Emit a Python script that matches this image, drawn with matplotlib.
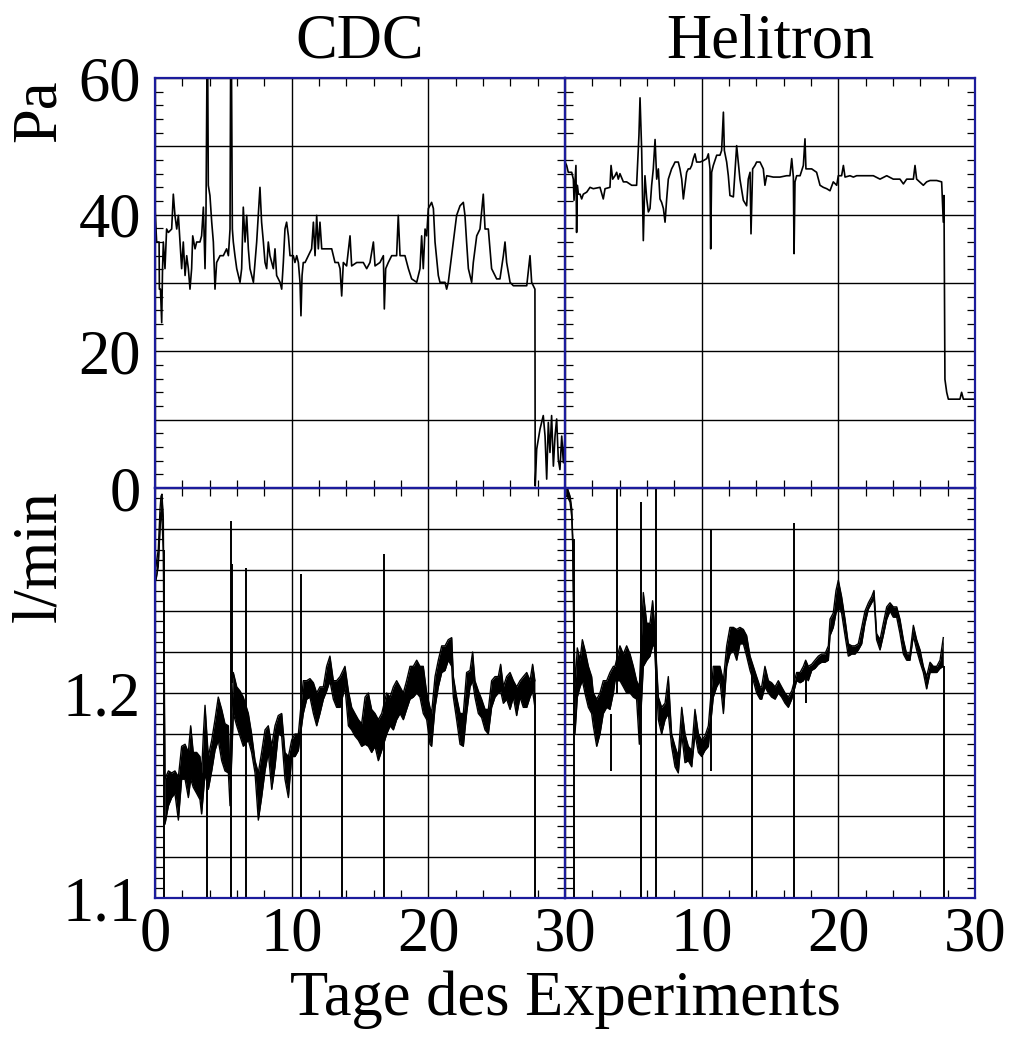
import numpy as np
import matplotlib
matplotlib.use("Agg")
import matplotlib.pyplot as plt
from matplotlib.ticker import MultipleLocator, FixedLocator, FixedFormatter

plt.rcParams['font.family'] = ['Liberation Serif', 'DejaVu Serif']

# ---------------- data ----------------
# differential pressure, CDC (day, Pa)
cdc_pa = [
    (0, 40.9), (0.12, 36.0), (0.3, 36.0), (0.32, 29.1), (0.4, 29.1), (0.49, 24.2), (0.55, 32.0),
    (0.61, 36.0), (0.73, 32.1), (0.85, 37.9), (0.98, 37.4), (1.22, 37.9), (1.34, 43.0), (1.46, 39.9),
    (1.59, 37.9), (1.71, 39.9), (1.83, 36.0), (1.95, 32.1), (2.07, 36.0), (2.2, 31.1), (2.32, 34.0),
    (2.44, 32.1), (2.56, 29.1), (2.68, 32.1), (2.76, 36.9), (2.93, 35.0), (3.05, 36.0), (3.29, 36.0),
    (3.41, 36.9), (3.54, 41.1), (3.66, 32.1), (3.73, 39.9), (3.8, 60.5), (3.86, 60.5), (3.9, 44.3),
    (4.02, 42.8), (4.15, 38.9), (4.27, 36.0), (4.39, 29.1), (4.51, 33.0), (4.76, 34.0), (5.0, 34.0),
    (5.24, 35.0), (5.37, 34.0), (5.49, 37.9), (5.53, 60.5), (5.6, 60.5), (5.66, 37.9), (5.73, 36.0),
    (5.85, 34.0), (5.98, 32.1), (6.22, 30.1), (6.34, 32.1), (6.46, 41.1), (6.59, 36.0), (6.71, 39.9),
    (6.83, 35.0), (6.95, 32.1), (7.2, 30.1), (7.44, 36.0), (7.56, 39.9), (7.68, 44.0), (7.8, 38.9),
    (7.93, 36.0), (8.05, 33.0), (8.17, 32.1), (8.29, 36.0), (8.41, 34.0), (8.66, 32.1), (8.78, 35.0),
    (8.9, 31.1), (9.15, 30.1), (9.27, 29.1), (9.39, 33.0), (9.51, 37.9), (9.63, 38.9), (9.76, 36.9),
    (9.88, 34.0), (10.12, 34.0), (10.24, 33.0), (10.37, 34.0), (10.49, 33.0), (10.61, 30.1),
    (10.68, 25.2), (10.76, 31.1), (10.85, 33.0), (10.98, 33.0), (11.22, 34.0), (11.46, 35.0),
    (11.59, 38.9), (11.71, 34.0), (11.83, 39.9), (11.95, 35.0), (12.07, 38.9), (12.2, 35.0),
    (12.56, 35.0), (12.93, 35.0), (13.17, 33.0), (13.41, 33.0), (13.54, 32.1), (13.66, 28.1),
    (13.78, 33.0), (14.02, 32.5), (14.27, 36.9), (14.39, 32.5), (14.76, 33.0), (15.24, 33.0),
    (15.49, 32.1), (15.73, 33.0), (15.98, 36.0), (16.1, 32.5), (16.46, 33.0), (16.71, 34.0),
    (16.78, 26.2), (16.88, 32.1), (17.07, 33.0), (17.32, 34.0), (17.68, 34.0), (17.8, 39.9),
    (17.93, 34.0), (18.29, 34.0), (18.54, 32.1), (18.78, 30.6), (19.15, 30.1), (19.39, 32.1),
    (19.51, 36.9), (19.63, 32.1), (19.76, 37.9), (19.88, 36.9), (20.0, 40.9), (20.24, 41.8),
    (20.37, 40.9), (20.49, 36.0), (20.73, 31.1), (20.85, 30.1), (21.22, 30.1), (21.34, 29.1),
    (21.46, 30.1), (21.83, 36.0), (22.07, 39.9), (22.32, 41.3), (22.56, 41.8), (22.68, 39.9),
    (22.8, 36.0), (22.93, 32.1), (23.17, 30.1), (23.29, 33.0), (23.54, 36.9), (23.78, 37.9),
    (24.02, 43.0), (24.15, 37.9), (24.39, 37.9), (24.51, 35.0), (24.63, 32.1), (25.0, 30.6),
    (25.24, 30.6), (25.49, 34.0), (25.61, 36.0), (25.73, 33.0), (25.98, 30.1), (26.22, 29.6),
    (26.71, 29.6), (27.2, 29.6), (27.44, 34.0), (27.56, 30.1), (27.8, 29.1), (27.82, 0.3),
    (27.93, 5.7), (28.17, 8.6), (28.41, 10.6), (28.54, 7.6), (28.66, 1.3), (28.78, 9.6),
    (28.9, 5.2), (29.02, 10.6), (29.15, 3.2), (29.27, 7.6), (29.39, 10.1), (29.51, 4.2),
    (29.63, 2.7), (29.76, 7.6), (29.88, 3.7), (30.0, 7.6),
]

# differential pressure, Helitron (day, Pa)
hel_pa = [
    (0, 47.7), (0.12, 47.2), (0.24, 46.2), (0.49, 46.2), (0.61, 45.2), (0.66, 42.1), (0.8, 47.2),
    (0.85, 37.4), (0.9, 44.3), (0.98, 43.0), (1.1, 43.0), (1.22, 42.3), (1.34, 43.0), (1.59, 43.3),
    (1.83, 44.0), (2.07, 43.8), (2.56, 44.0), (2.8, 42.3), (2.93, 43.8), (3.29, 44.0), (3.37, 47.2),
    (3.49, 45.2), (3.66, 45.7), (3.78, 46.2), (3.9, 45.2), (4.02, 46.0), (4.27, 44.8), (4.51, 44.8),
    (4.88, 44.3), (5.24, 44.3), (5.41, 51.6), (5.49, 57.1), (5.61, 49.4), (5.73, 36.2), (5.85, 45.7),
    (5.98, 42.3), (6.1, 40.4), (6.22, 40.9), (6.34, 44.3), (6.46, 46.7), (6.59, 51.0), (6.71, 45.2),
    (6.83, 46.7), (6.95, 42.3), (7.07, 41.8), (7.2, 40.9), (7.32, 38.9), (7.44, 42.3), (7.56, 45.2),
    (7.8, 46.7), (7.93, 47.2), (8.05, 47.7), (8.29, 47.7), (8.41, 46.7), (8.54, 45.2), (8.66, 42.3),
    (8.78, 44.3), (8.9, 46.2), (9.02, 46.7), (9.15, 46.7), (9.27, 47.2), (9.39, 48.2), (9.51, 48.9),
    (9.63, 47.7), (9.88, 47.7), (10.12, 47.9), (10.37, 48.2), (10.49, 48.9), (10.61, 46.7),
    (10.66, 35.0), (10.73, 46.2), (10.85, 47.2), (11.1, 48.7), (11.34, 48.7), (11.46, 49.4),
    (11.59, 55.0), (11.66, 49.4), (11.83, 47.7), (11.95, 45.7), (12.07, 42.8), (12.32, 42.6),
    (12.56, 50.1), (12.68, 47.7), (12.8, 45.2), (13.05, 42.1), (13.29, 41.3), (13.41, 45.2),
    (13.54, 46.2), (13.61, 37.2), (13.73, 46.7), (13.9, 47.2), (14.02, 47.7), (14.27, 47.7),
    (14.51, 46.7), (14.63, 44.3), (14.76, 45.7), (15.24, 45.5), (15.73, 45.5), (16.22, 45.7),
    (16.46, 45.7), (16.59, 48.2), (16.71, 45.5), (16.76, 34.3), (16.83, 44.8), (16.95, 45.7),
    (17.2, 45.7), (17.44, 47.2), (17.56, 51.1), (17.63, 46.7), (17.8, 46.7), (18.05, 46.7),
    (18.41, 46.2), (18.66, 44.3), (18.9, 44.0), (19.15, 43.8), (19.39, 43.5), (19.63, 44.8),
    (19.88, 44.3), (20.0, 45.7), (20.24, 45.7), (20.37, 47.2), (20.49, 45.5), (20.85, 45.7),
    (21.1, 45.5), (21.34, 45.7), (21.59, 45.7), (22.07, 45.7), (22.56, 45.7), (23.05, 45.2),
    (23.54, 45.7), (24.02, 45.2), (24.51, 45.2), (24.76, 44.5), (25.0, 45.2), (25.49, 45.2),
    (25.61, 47.2), (25.73, 45.2), (26.22, 44.3), (26.46, 44.8), (26.71, 45.0), (27.2, 45.0),
    (27.56, 44.8), (27.68, 38.9), (27.73, 42.8), (27.8, 15.9), (27.93, 14.0), (28.05, 13.0),
    (28.9, 13.0), (29.02, 14.0), (29.15, 13.0), (29.88, 13.0),
]

# gas flow, CDC: noise band (day, lower, upper) in l/min
cdc_flow = [
    (0.07, 1.255, 1.262), (0.24, 1.262, 1.270), (0.37, 1.280, 1.290), (0.44, 1.288, 1.296),
    (0.51, 1.285, 1.297), (0.61, 1.268, 1.285),
    (0.73, 1.136, 1.158), (0.98, 1.145, 1.162), (1.22, 1.149, 1.161), (1.46, 1.151, 1.162),
    (1.71, 1.138, 1.159), (1.95, 1.158, 1.174), (2.2, 1.158, 1.175), (2.44, 1.149, 1.171),
    (2.61, 1.158, 1.184), (2.8, 1.154, 1.171), (3.05, 1.151, 1.171), (3.29, 1.148, 1.169),
    (3.41, 1.141, 1.161), (3.54, 1.151, 1.180), (3.66, 1.161, 1.194), (3.9, 1.153, 1.169),
    (4.15, 1.162, 1.177), (4.39, 1.172, 1.187), (4.63, 1.177, 1.198), (4.88, 1.167, 1.192),
    (5.12, 1.162, 1.185), (5.37, 1.161, 1.184), (5.49, 1.145, 1.158), (5.73, 1.190, 1.210),
    (5.98, 1.184, 1.203), (6.22, 1.179, 1.201), (6.46, 1.174, 1.198), (6.83, 1.177, 1.190),
    (7.07, 1.171, 1.180), (7.32, 1.161, 1.167), (7.56, 1.138, 1.161), (7.8, 1.149, 1.171),
    (8.05, 1.162, 1.182), (8.29, 1.171, 1.184), (8.54, 1.153, 1.174), (8.78, 1.164, 1.184),
    (9.02, 1.180, 1.189), (9.27, 1.179, 1.190), (9.51, 1.158, 1.171), (9.76, 1.149, 1.169),
    (10.0, 1.169, 1.177), (10.24, 1.169, 1.180), (10.49, 1.172, 1.180), (10.85, 1.190, 1.206),
    (11.1, 1.197, 1.206), (11.34, 1.198, 1.207), (11.59, 1.190, 1.205), (11.83, 1.184, 1.200),
    (12.07, 1.190, 1.203), (12.32, 1.197, 1.203), (12.56, 1.201, 1.213), (12.8, 1.206, 1.218),
    (13.05, 1.197, 1.206), (13.29, 1.193, 1.206), (13.54, 1.193, 1.208), (13.9, 1.203, 1.213),
    (14.15, 1.184, 1.201), (14.39, 1.182, 1.193), (14.63, 1.179, 1.190), (14.88, 1.177, 1.187),
    (15.12, 1.174, 1.185), (15.37, 1.175, 1.198), (15.61, 1.174, 1.200), (15.85, 1.171, 1.192),
    (16.1, 1.174, 1.190), (16.34, 1.167, 1.187), (16.59, 1.172, 1.190), (16.95, 1.180, 1.200),
    (17.2, 1.184, 1.198), (17.44, 1.182, 1.203), (17.68, 1.187, 1.206), (17.93, 1.190, 1.203),
    (18.17, 1.187, 1.200), (18.41, 1.192, 1.206), (18.66, 1.197, 1.213), (18.9, 1.198, 1.213),
    (19.15, 1.200, 1.216), (19.39, 1.198, 1.213), (19.63, 1.190, 1.213), (19.88, 1.187, 1.200),
    (20.12, 1.175, 1.193), (20.24, 1.174, 1.190), (20.49, 1.193, 1.208), (20.73, 1.203, 1.216),
    (20.98, 1.210, 1.223), (21.22, 1.211, 1.223), (21.46, 1.216, 1.226), (21.71, 1.213, 1.227),
    (21.83, 1.198, 1.208), (22.07, 1.187, 1.198), (22.32, 1.175, 1.190), (22.56, 1.174, 1.190),
    (22.8, 1.190, 1.210), (23.05, 1.203, 1.211), (23.24, 1.206, 1.220), (23.41, 1.198, 1.206),
    (23.66, 1.190, 1.201), (23.9, 1.188, 1.197), (24.15, 1.182, 1.192), (24.39, 1.180, 1.192),
    (24.63, 1.193, 1.206), (24.88, 1.198, 1.208), (25.12, 1.200, 1.208), (25.29, 1.201, 1.214),
    (25.49, 1.195, 1.203), (25.73, 1.197, 1.208), (25.98, 1.192, 1.210), (26.22, 1.198, 1.206),
    (26.46, 1.189, 1.203), (26.71, 1.198, 1.206), (26.95, 1.193, 1.208), (27.2, 1.193, 1.210),
    (27.44, 1.198, 1.206), (27.63, 1.201, 1.214), (27.8, 1.193, 1.206),
]

# gas flow, CDC: isolated glitches (day, from, to)
cdc_flow_spikes = [
    (0.66, 1.09, 1.270), (3.83, 1.09, 1.160), (5.56, 1.09, 1.284), (5.66, 1.205, 1.263),
    (6.68, 1.09, 1.261), (10.68, 1.09, 1.258), (13.66, 1.09, 1.200), (16.78, 1.09, 1.268),
    (27.8, 1.09, 1.200),
]

# gas flow, Helitron: noise band (day, lower, upper) in l/min
hel_flow = [
    (0.05, 1.296, 1.302), (0.17, 1.296, 1.300), (0.37, 1.293, 1.296), (0.49, 1.286, 1.290),
    (0.56, 1.273, 1.277),
    (0.73, 1.180, 1.203), (0.9, 1.198, 1.222), (1.1, 1.203, 1.216), (1.27, 1.206, 1.226),
    (1.46, 1.200, 1.221), (1.71, 1.193, 1.213), (1.95, 1.190, 1.208), (2.07, 1.184, 1.200),
    (2.32, 1.174, 1.197), (2.56, 1.180, 1.200), (2.8, 1.190, 1.206), (3.05, 1.193, 1.206),
    (3.29, 1.192, 1.210), (3.54, 1.200, 1.213), (3.66, 1.206, 1.213), (4.02, 1.206, 1.223),
    (4.27, 1.203, 1.219), (4.51, 1.200, 1.223), (4.76, 1.200, 1.219), (5.0, 1.198, 1.213),
    (5.24, 1.197, 1.206), (5.44, 1.175, 1.203), (5.73, 1.213, 1.249), (5.98, 1.216, 1.234),
    (6.22, 1.218, 1.234), (6.41, 1.223, 1.245), (6.54, 1.223, 1.234), (6.83, 1.187, 1.198),
    (7.07, 1.180, 1.193), (7.32, 1.187, 1.195), (7.56, 1.190, 1.208), (7.8, 1.174, 1.180),
    (8.05, 1.164, 1.174), (8.29, 1.161, 1.169), (8.54, 1.180, 1.193), (8.78, 1.166, 1.180),
    (9.02, 1.167, 1.174), (9.27, 1.164, 1.172), (9.51, 1.180, 1.192), (9.76, 1.171, 1.180),
    (10.0, 1.169, 1.177), (10.24, 1.172, 1.179), (10.49, 1.174, 1.184), (10.85, 1.198, 1.213),
    (11.1, 1.203, 1.213), (11.34, 1.206, 1.213), (11.59, 1.190, 1.206), (11.83, 1.213, 1.223),
    (12.07, 1.219, 1.232), (12.32, 1.221, 1.232), (12.56, 1.216, 1.231), (12.8, 1.224, 1.232),
    (13.05, 1.224, 1.231), (13.29, 1.218, 1.228), (13.54, 1.211, 1.218), (13.78, 1.206, 1.213),
    (14.02, 1.200, 1.208), (14.27, 1.197, 1.203), (14.39, 1.197, 1.203), (14.63, 1.203, 1.213),
    (14.88, 1.200, 1.206), (15.12, 1.198, 1.205), (15.37, 1.197, 1.203), (15.61, 1.200, 1.206),
    (15.85, 1.198, 1.203), (16.1, 1.195, 1.200), (16.34, 1.193, 1.198), (16.59, 1.197, 1.201),
    (16.95, 1.206, 1.210), (17.2, 1.205, 1.210), (17.44, 1.206, 1.213), (17.61, 1.208, 1.216),
    (17.8, 1.206, 1.213), (18.05, 1.211, 1.214), (18.29, 1.212, 1.216), (18.54, 1.214, 1.218),
    (18.78, 1.215, 1.219), (19.02, 1.215, 1.219), (19.27, 1.216, 1.223), (19.39, 1.228, 1.236),
    (19.63, 1.232, 1.239), (19.83, 1.239, 1.250), (20.0, 1.242, 1.255), (20.24, 1.239, 1.247),
    (20.49, 1.228, 1.236), (20.73, 1.218, 1.224), (20.98, 1.219, 1.223), (21.22, 1.219, 1.223),
    (21.46, 1.221, 1.224), (21.71, 1.224, 1.232), (21.95, 1.234, 1.240), (22.2, 1.241, 1.244),
    (22.44, 1.244, 1.247), (22.61, 1.246, 1.250), (22.8, 1.226, 1.229), (23.05, 1.221, 1.226),
    (23.29, 1.228, 1.234), (23.54, 1.236, 1.242), (23.78, 1.240, 1.244), (24.02, 1.237, 1.242),
    (24.27, 1.237, 1.242), (24.51, 1.229, 1.236), (24.76, 1.219, 1.226), (25.0, 1.216, 1.219),
    (25.24, 1.216, 1.219), (25.49, 1.228, 1.233), (25.73, 1.221, 1.226), (25.98, 1.215, 1.221),
    (26.22, 1.210, 1.213), (26.46, 1.202, 1.208), (26.71, 1.210, 1.215), (26.95, 1.210, 1.213),
    (27.2, 1.210, 1.213), (27.44, 1.212, 1.216), (27.68, 1.213, 1.227),
]

# gas flow, Helitron: isolated glitches (day, from, to)
hel_flow_spikes = [
    (0.63, 1.09, 1.275), (3.36, 1.162, 1.190), (3.83, 1.200, 1.31), (5.56, 1.09, 1.293),
    (6.66, 1.09, 1.31), (10.66, 1.162, 1.280), (13.66, 1.09, 1.211), (16.76, 1.09, 1.283),
    (17.61, 1.195, 1.215), (27.76, 1.09, 1.213),
]

panel_titles = ["CDC", "Helitron"]
pa_ticklabels = ["0", "", "20", "", "40", "", "60"]
flow_ticklabels = ["1.1", "", "", "", "", "1.2", "", "", "", "", ""]
xlabel = "Tage des Experiments"

# ---------------- layout ----------------
W, H = 1014, 1039
fig = plt.figure(figsize=(W / 100, H / 100), dpi=100)

def rect(x0, y0, x1, y1):
    return [x0 / W, 1 - y1 / H, (x1 - x0) / W, (y1 - y0) / H]

ax_tl = fig.add_axes(rect(155, 78, 565, 488))
ax_tr = fig.add_axes(rect(565, 78, 975, 488))
ax_bl = fig.add_axes(rect(155, 488, 565, 898))
ax_br = fig.add_axes(rect(565, 488, 975, 898))

spine_color = "#1c1c9c"
FS = 45

for ax in (ax_tl, ax_tr, ax_bl, ax_br):
    ax.set_xlim(0, 30)
    ax.xaxis.set_major_locator(MultipleLocator(10))
    ax.xaxis.set_minor_locator(MultipleLocator(2))
    ax.grid(which="major", color="black", lw=1.0, zorder=1)
    ax.tick_params(which="both", direction="in", top=True, right=True,
                   labelsize=FS, color="black")
    ax.tick_params(which="major", length=0, width=1.0)
    ax.tick_params(which="minor", length=6, width=0.9)
    ax.tick_params(axis="x", pad=6)
    ax.tick_params(axis="y", pad=10)
    for s in ax.spines.values():
        s.set_color(spine_color)
        s.set_linewidth(1.6)
        s.set_zorder(5)

for ax in (ax_tl, ax_tr):
    ax.set_ylim(0, 60)
    ax.yaxis.set_major_locator(FixedLocator(np.arange(0, 61, 10)))
    ax.yaxis.set_minor_locator(MultipleLocator(2))
    ax.tick_params(labelbottom=False)

for ax in (ax_bl, ax_br):
    ax.set_ylim(1.1, 1.3)
    ax.yaxis.set_major_locator(FixedLocator(np.linspace(1.1, 1.3, 11)))
    ax.yaxis.set_minor_locator(MultipleLocator(0.005))

ax_tl.yaxis.set_major_formatter(FixedFormatter(pa_ticklabels))
ax_bl.yaxis.set_major_formatter(FixedFormatter(flow_ticklabels))
ax_tr.tick_params(labelleft=False)
ax_br.tick_params(labelleft=False)
ax_bl.xaxis.set_major_locator(FixedLocator([0, 10, 20, 30]))
ax_bl.xaxis.set_major_formatter(FixedFormatter(["0", "10", "20", "30"]))
ax_br.xaxis.set_major_locator(FixedLocator([0, 10, 20, 30]))
ax_br.xaxis.set_major_formatter(FixedFormatter(["", "10", "20", "30"]))

# ---------------- data drawing ----------------
def draw_pressure(ax, series):
    d = np.array([p[0] for p in series])
    v = np.array([p[1] for p in series])
    ax.plot(d, v, color="black", lw=1.2, zorder=3)

def draw_flow(ax, band, spikes):
    d = np.array([b[0] for b in band])
    lo = np.array([b[1] for b in band])
    hi = np.array([b[2] for b in band])
    ax.fill_between(d, lo, hi, color="black", lw=0, zorder=3)
    ax.plot(d, lo, color="black", lw=1.0, zorder=3)
    ax.plot(d, hi, color="black", lw=1.0, zorder=3)
    sd = [s[0] for s in spikes]
    s0 = [s[1] for s in spikes]
    s1 = [s[2] for s in spikes]
    ax.vlines(sd, s0, s1, color="black", lw=1.4, zorder=3)

draw_pressure(ax_tl, cdc_pa)
draw_pressure(ax_tr, hel_pa)
draw_flow(ax_bl, cdc_flow, cdc_flow_spikes)
draw_flow(ax_br, hel_flow, hel_flow_spikes)

# ---------------- text ----------------
fig.text(360 / W, 1 - 42 / H, panel_titles[0], ha="center", va="center", fontsize=FS)
fig.text(770 / W, 1 - 42 / H, panel_titles[1], ha="center", va="center", fontsize=FS)
fig.text(40 / W, 1 - 111 / H, "Pa", rotation=90, ha="center", va="center", fontsize=FS)
fig.text(40 / W, 1 - 556 / H, "l/min", rotation=90, ha="center", va="center", fontsize=FS)
fig.text(565 / W, 1 - 1000 / H, xlabel, ha="center", va="center", fontsize=FS)

fig.savefig("out.png", dpi=100, facecolor="white")
